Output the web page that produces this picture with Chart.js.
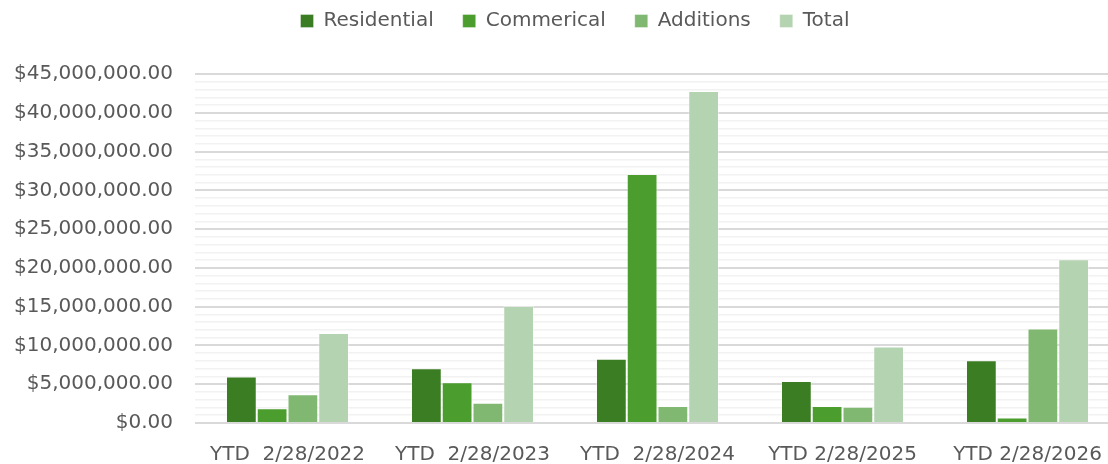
<!DOCTYPE html>
<html lang="en">
<head>
    <meta charset="UTF-8">
    <title>YTD Permit Values</title>
    <script src="https://cdn.jsdelivr.net/npm/chart.js"></script>
    <style>
        html, body { margin: 0; padding: 0; background: #fff; }
        #wrap { width: 1108px; height: 464px; }
    </style>
</head>
<body>
    <div id="wrap"><canvas id="chart"></canvas></div>

    <script>
        var categories = ['YTD  2/28/2022', 'YTD  2/28/2023', 'YTD  2/28/2024', 'YTD 2/28/2025', 'YTD 2/28/2026'];
        var residential = [6000000, 7050000, 8300000, 5400000, 8100000];
        var commercial = [1900000, 5250000, 32100000, 2200000, 700000];
        var additions = [3700000, 2600000, 2200000, 2100000, 12200000];
        var total = [11600000, 15100000, 42800000, 9850000, 21100000];

        var fontFamily = '"DejaVu Sans", sans-serif';
        var textColor = '#595959';

        function money(v) {
            return '$' + v.toLocaleString('en-US', { minimumFractionDigits: 2, maximumFractionDigits: 2 });
        }

        function serie(label, data, color) {
            return {
                label: label,
                data: data,
                backgroundColor: color,
                borderColor: 'rgba(255,255,255,0.35)',
                borderWidth: 1,
                borderSkipped: 'bottom'
            };
        }

        // legend gets a fixed height so the plot starts where the original does,
        // and is nudged right a bit. The original plot also runs ~12px past the
        // right edge of the picture, so the x scale is widened after layout.
        var layoutTweak = {
            id: 'layoutTweak',
            beforeInit: function(chart) {
                var fit = chart.legend.fit;
                chart.legend.fit = function() {
                    fit.call(this);
                    this.height = 92;
                };
            },
            afterLayout: function(chart) {
                chart.legend.left += 21;
                chart.legend.right += 21;
                var x = chart.scales.x;
                x.right += 12;
                x.width += 12;
                x.configure();
                chart.chartArea.right += 12;
                chart.chartArea.width += 12;
            }
        };

        var ctx = document.getElementById('chart').getContext('2d');
        var chart = new Chart(ctx, {
            type: 'bar',
            data: {
                labels: categories,
                datasets: [
                    serie('Residential', residential, '#3b7d23'),
                    serie('Commerical', commercial, '#4b9d2d'),
                    serie('Additions', additions, '#80b872'),
                    serie('Total', total, '#b4d3b0')
                ]
            },
            plugins: [layoutTweak],
            options: {
                responsive: true,
                maintainAspectRatio: false,
                animation: false,
                layout: { padding: { top: -18, right: 0, bottom: 0, left: 0 } },
                datasets: {
                    bar: { categoryPercentage: 0.665, barPercentage: 1.0 }
                },
                plugins: {
                    legend: {
                        position: 'top',
                        labels: {
                            color: textColor,
                            font: { family: fontFamily, size: 20 },
                            boxWidth: 13,
                            boxHeight: 13,
                            padding: 29
                        }
                    },
                    tooltip: { enabled: false }
                },
                scales: {
                    x: {
                        afterFit: function(scale) {
                            scale.height = 41;
                            scale.paddingRight = 0;
                        },
                        grid: { display: false, drawTicks: false },
                        border: { display: false },
                        ticks: {
                            color: textColor,
                            font: { family: fontFamily, size: 20 },
                            padding: 20,
                            maxRotation: 0
                        }
                    },
                    y: {
                        min: 0,
                        max: 45000000,
                        afterFit: function(scale) { scale.width = 195; },
                        border: { display: false },
                        grid: {
                            drawTicks: false,
                            color: function(c) {
                                return c.tick && c.tick.value % 5000000 === 0 ? '#d9d9d9' : '#f2f2f2';
                            },
                            lineWidth: function(c) {
                                return c.tick && c.tick.value % 5000000 === 0 ? 2 : 1.5;
                            }
                        },
                        ticks: {
                            stepSize: 1000000,
                            autoSkip: false,
                            maxTicksLimit: 100,
                            padding: 22,
                            color: textColor,
                            font: { family: fontFamily, size: 20 },
                            callback: function(v) {
                                return v % 5000000 === 0 ? money(v) : '';
                            }
                        }
                    }
                }
            }
        });
    </script>
</body>
</html>
